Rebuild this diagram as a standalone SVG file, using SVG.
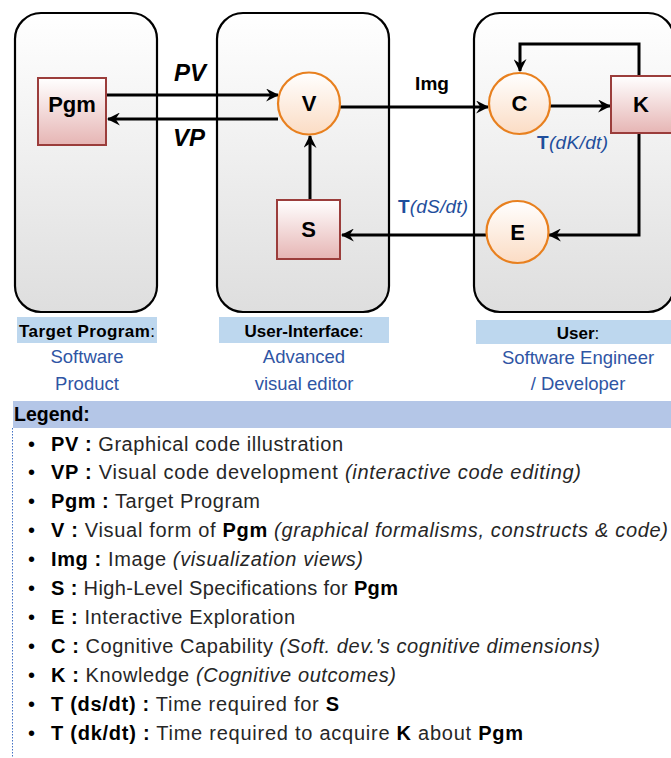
<svg xmlns="http://www.w3.org/2000/svg" width="671" height="758" viewBox="0 0 671 758">
  <defs>
    <linearGradient id="panelFill" x1="0" y1="0" x2="0" y2="1">
      <stop offset="0" stop-color="#ffffff"/>
      <stop offset="1" stop-color="#dedede"/>
    </linearGradient>
    <linearGradient id="boxFill" x1="0" y1="0" x2="0" y2="1">
      <stop offset="0" stop-color="#ffffff"/>
      <stop offset="1" stop-color="#e6b5b4"/>
    </linearGradient>
    <linearGradient id="circFill" x1="0" y1="0" x2="0" y2="1">
      <stop offset="0" stop-color="#ffffff"/>
      <stop offset="1" stop-color="#fbdcc4"/>
    </linearGradient>
    <marker id="arrow" viewBox="0 0 12 12" refX="11" refY="6" markerWidth="13" markerHeight="13" markerUnits="userSpaceOnUse" orient="auto">
      <path d="M0,0 L12,6 L0,12 L4,6 z" fill="#000"/>
    </marker>
  </defs>
  <style>
    text { font-family: "Liberation Sans", Arial, sans-serif; }
    .panel { fill: url(#panelFill); stroke: #000; stroke-width: 2.2; }
    .box { fill: url(#boxFill); stroke: #9b3d3b; stroke-width: 2; }
    .circ { fill: url(#circFill); stroke: #e8801f; stroke-width: 2.2; }
    .nlabel { font-size: 22px; font-weight: bold; fill: #000; text-anchor: middle; }
    .edge { fill: none; stroke: #000; stroke-width: 3; marker-end: url(#arrow); }
    .elabel { font-size: 24px; font-weight: bold; font-style: italic; fill: #000; text-anchor: middle; }
    .tlabel { font-size: 19px; fill: #1f4e9c; }
    .cap { fill: #bdd7ee; }
    .capt { font-size: 17px; font-weight: bold; fill: #000; text-anchor: middle; }
    .sub { font-size: 18.5px; fill: #2f55a4; text-anchor: middle; }
    .leg { font-size: 20px; fill: #262626; }
    .bul { font-size: 20px; fill: #000; }
    .b { font-weight: bold; fill: #000; }
    .i { font-style: italic; }
  </style>

  <!-- containers -->
  <g id="panel-target">
    <rect class="panel" x="15" y="13" width="142" height="299" rx="26"/>
  </g>
  <g id="panel-ui">
    <rect class="panel" x="217" y="13" width="172" height="299" rx="26"/>
  </g>
  <g id="panel-user">
    <rect class="panel" x="474" y="13" width="200" height="299" rx="26"/>
  </g>

  <!-- connectors -->
  <g id="connectors">
    <line class="edge" x1="107" y1="95" x2="278" y2="95"/>
    <line class="edge" x1="278" y1="119" x2="108" y2="119"/>
    <line class="edge" x1="310" y1="200" x2="310" y2="136"/>
    <line class="edge" x1="340" y1="107" x2="488" y2="107"/>
    <line class="edge" x1="550" y1="106" x2="610" y2="106"/>
    <path class="edge" d="M639,76 V44 H520 V71"/>
    <path class="edge" d="M639,133 V235 H549"/>
    <line class="edge" x1="487" y1="235" x2="342" y2="235"/>
    <text class="elabel" x="190" y="81">PV</text>
    <text class="elabel" x="189" y="146">VP</text>
    <text x="432" y="90" font-size="19" font-weight="bold" text-anchor="middle">Img</text>
    <text class="tlabel" x="537" y="149" textLength="71"><tspan font-weight="bold">T</tspan><tspan font-style="italic">(dK/dt)</tspan></text>
    <text class="tlabel" x="398" y="213" textLength="70"><tspan font-weight="bold">T</tspan><tspan font-style="italic">(dS/dt)</tspan></text>
  </g>

  <!-- nodes -->
  <g id="node-pgm">
    <rect class="box" x="38" y="78" width="68" height="67"/>
    <text class="nlabel" x="72" y="112" font-size="20">Pgm</text>
  </g>
  <g id="node-v">
    <circle class="circ" cx="309" cy="103.5" r="31"/>
    <text class="nlabel" x="309" y="111">V</text>
  </g>
  <g id="node-s">
    <rect class="box" x="277" y="200" width="63" height="59"/>
    <text class="nlabel" x="308.5" y="237" font-weight="normal">S</text>
  </g>
  <g id="node-c">
    <circle class="circ" cx="519.5" cy="103.5" r="30.5"/>
    <text class="nlabel" x="519.5" y="111">C</text>
  </g>
  <g id="node-k">
    <rect class="box" x="611" y="76" width="64" height="57"/>
    <text class="nlabel" x="641" y="112">K</text>
  </g>
  <g id="node-e">
    <circle class="circ" cx="517.5" cy="232" r="31"/>
    <text class="nlabel" x="517.5" y="240">E</text>
  </g>

  <!-- panel captions -->
  <g id="caption-target">
    <rect class="cap" x="17" y="317" width="140" height="26"/>
    <text class="capt" x="87" y="337" textLength="136">Target Program<tspan font-weight="normal">:</tspan></text>
    <text class="sub" x="87" y="363">Software</text>
    <text class="sub" x="87" y="390">Product</text>
  </g>
  <g id="caption-ui">
    <rect class="cap" x="219" y="317" width="170" height="26"/>
    <text class="capt" x="304" y="337">User-Interface<tspan font-weight="normal">:</tspan></text>
    <text class="sub" x="304" y="363">Advanced</text>
    <text class="sub" x="304" y="390">visual editor</text>
  </g>
  <g id="caption-user">
    <rect class="cap" x="476" y="320" width="195" height="24"/>
    <text class="capt" x="578" y="339">User<tspan font-weight="normal">:</tspan></text>
    <text class="sub" x="578" y="364">Software Engineer</text>
    <text class="sub" x="578" y="390">/ Developer</text>
  </g>

  <!-- legend -->
  <g id="legend">
    <rect x="13" y="401" width="658" height="27" fill="#b4c6e7"/>
    <text x="14" y="421" font-size="19.5" font-weight="bold" fill="#000">Legend:</text>
    <line x1="12.5" y1="428" x2="12.5" y2="758" stroke="#4472c4" stroke-width="1" stroke-dasharray="1.5 1.5"/>
    <g>
      <text class="bul" x="28" y="451">•</text>
      <text class="bul" x="28" y="479">•</text>
      <text class="bul" x="28" y="508">•</text>
      <text class="bul" x="28" y="537">•</text>
      <text class="bul" x="28" y="566">•</text>
      <text class="bul" x="28" y="595">•</text>
      <text class="bul" x="28" y="624">•</text>
      <text class="bul" x="28" y="653">•</text>
      <text class="bul" x="28" y="682">•</text>
      <text class="bul" x="28" y="711">•</text>
      <text class="bul" x="28" y="740">•</text>
    </g>
    <g>
      <text class="leg" x="51" y="451" textLength="292"><tspan class="b">PV :</tspan> Graphical code illustration</text>
      <text class="leg" x="51" y="479" textLength="530"><tspan class="b">VP :</tspan> Visual code development <tspan class="i">(interactive code editing)</tspan></text>
      <text class="leg" x="51" y="508" textLength="209"><tspan class="b">Pgm :</tspan> Target Program</text>
      <text class="leg" x="51" y="537" textLength="617"><tspan class="b">V :</tspan> Visual form of <tspan class="b">Pgm</tspan> <tspan class="i">(graphical formalisms, constructs &amp; code)</tspan></text>
      <text class="leg" x="51" y="566" textLength="312"><tspan class="b">Img :</tspan> Image <tspan class="i">(visualization views)</tspan></text>
      <text class="leg" x="51" y="595" textLength="347"><tspan class="b">S :</tspan> High-Level Specifications for <tspan class="b">Pgm</tspan></text>
      <text class="leg" x="51" y="624" textLength="244"><tspan class="b">E :</tspan> Interactive Exploration</text>
      <text class="leg" x="51" y="653" textLength="549"><tspan class="b">C :</tspan> Cognitive Capability <tspan class="i">(Soft. dev.'s cognitive dimensions)</tspan></text>
      <text class="leg" x="51" y="682" textLength="345"><tspan class="b">K :</tspan> Knowledge <tspan class="i">(Cognitive outcomes)</tspan></text>
      <text class="leg" x="51" y="711" textLength="288"><tspan class="b">T (ds/dt) :</tspan> Time required for <tspan class="b">S</tspan></text>
      <text class="leg" x="51" y="740" textLength="472"><tspan class="b">T (dk/dt) :</tspan> Time required to acquire <tspan class="b">K</tspan> about <tspan class="b">Pgm</tspan></text>
    </g>
  </g>
</svg>
